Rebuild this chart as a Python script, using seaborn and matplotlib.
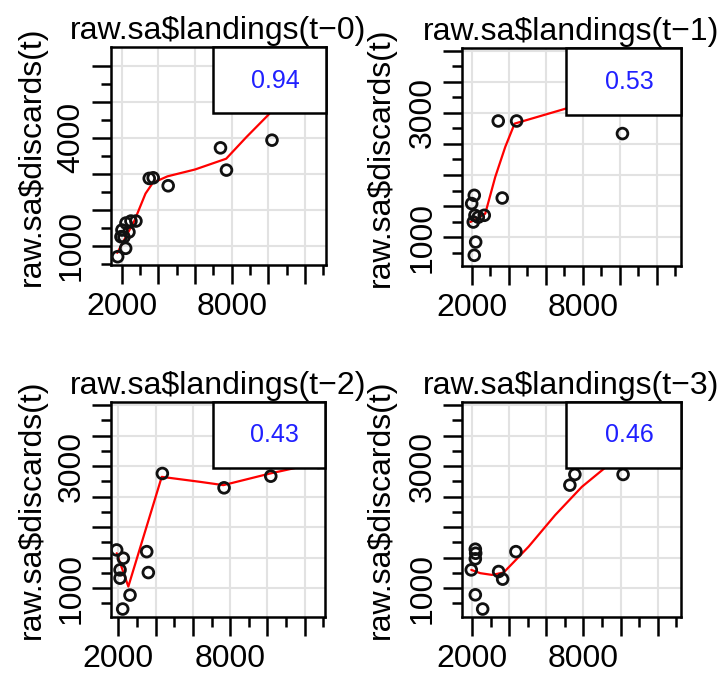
import matplotlib
matplotlib.use("Agg")
import matplotlib.pyplot as plt
from matplotlib.patches import Rectangle
from matplotlib.ticker import FixedLocator, FixedFormatter
import seaborn as sns
import pandas as pd

# values
lag0_x = [1782, 2218, 1962, 2125, 2397, 2234, 2506, 2778, 2016, 3503, 3720, 4537, 7389, 7716, 10198]
lag0_y = [694, 928, 1250, 1242, 1381, 1631, 1686, 1686, 1436, 2872, 2889, 2667, 3722, 3103, 3936]
lag0_fit_x = [1760, 2700, 3300, 3700, 4500, 6000, 7700, 8800, 10000, 10500]
lag0_fit_y = [800, 1700, 2450, 2750, 2930, 3120, 3420, 4020, 4640, 4950]

lag1_x = [2124, 1984, 2160, 2341, 2665, 2070, 2200, 2124, 3638, 3422, 4416, 10146]
lag1_y = [1672, 1539, 1350, 1320, 1350, 1242, 919, 705, 1629, 2871, 2871, 2668]
lag1_fit_x = [1908, 2270, 2719, 3259, 3800, 4308, 7081, 7600]
lag1_fit_y = [1242, 1297, 1377, 1968, 2452, 2829, 3071, 3110]

lag2_x = [1911, 2268, 2091, 2091, 2627, 2234, 3610, 3524, 4362, 7674, 10180, 12744]
lag2_y = [1626, 1490, 1299, 1163, 885, 657, 1255, 1598, 2880, 2645, 2836, 3060]
lag2_fit_x = [1914, 2537, 4329, 6385, 7636, 10143, 11753, 12744]
lag2_fit_y = [1572, 1026, 2825, 2743, 2689, 2880, 2988, 3019]

lag3_x = [2180, 2199, 2180, 1962, 2180, 2575, 3435, 3651, 4366, 7538, 7269, 10134]
lag3_y = [1638, 1572, 1480, 1299, 890, 657, 1272, 1147, 1598, 2864, 2689, 2864]
lag3_fit_x = [1962, 2446, 3075, 3704, 5048, 6478, 7914, 9220, 9800]
lag3_fit_y = [1299, 1245, 1217, 1255, 1680, 2198, 2661, 2988, 3150]

lags = ["0", "1", "2", "3"]
r_values = ["0.94", "0.53", "0.43", "0.46"]

x_major = [2000, 4000, 6000, 8000, 10000, 12000]
x_minor = [3000, 5000, 7000, 9000, 11000, 13000]
x_labels = ["2000", "", "", "8000", "", ""]

y_major_big = [1000, 2000, 3000, 4000, 5000, 6000]
y_minor_big = [500, 1500, 2500, 3500, 4500, 5500]
y_labels_big = ["1000", "", "", "4000", "", ""]
y_major_small = [1000, 1500, 2000, 2500, 3000, 3500, 4000]
y_minor_small = [750, 1250, 1750, 2250, 2750, 3250, 3750]
y_labels_small = ["1000", "", "", "", "3000", "", ""]

panels = [
    dict(x=lag0_x, y=lag0_y, fx=lag0_fit_x, fy=lag0_fit_y,
         rect=[0.1533, 0.6097, 0.2970, 0.3211], xlim=(1418, 13145), ylim=(463, 6528),
         ymaj=y_major_big, ymin=y_minor_big, ylab=y_labels_big),
    dict(x=lag1_x, y=lag1_y, fx=lag1_fit_x, fy=lag1_fit_y,
         rect=[0.6381, 0.6082, 0.3025, 0.3211], xlim=(1459, 13315), ylim=(532, 4048),
         ymaj=y_major_small, ymin=y_minor_small, ylab=y_labels_small),
    dict(x=lag2_x, y=lag2_y, fx=lag2_fit_x, fy=lag2_fit_y,
         rect=[0.1533, 0.0913, 0.2956, 0.3166], xlim=(1606, 13091), ylim=(526, 4052),
         ymaj=y_major_small, ymin=y_minor_small, ylab=y_labels_small),
    dict(x=lag3_x, y=lag3_y, fx=lag3_fit_x, fy=lag3_fit_y,
         rect=[0.6381, 0.0913, 0.3025, 0.3166], xlim=(1462, 13251), ylim=(526, 4052),
         ymaj=y_major_small, ymin=y_minor_small, ylab=y_labels_small),
]

sns.set_style("white")
plt.rcParams["font.family"] = ["Liberation Sans", "DejaVu Sans"]

fig = plt.figure(figsize=(7.24, 6.79), dpi=100)

for i, p in enumerate(panels):
    ax = fig.add_axes(p["rect"])
    pts = pd.DataFrame({"landings": p["x"], "discards": p["y"]})
    fit = pd.DataFrame({"landings": p["fx"], "discards": p["fy"]})

    sns.lineplot(data=fit, x="landings", y="discards", ax=ax, color="red",
                 lw=1.6, sort=False, estimator=None, zorder=2)
    sns.scatterplot(data=pts, x="landings", y="discards", ax=ax, marker="o", s=60,
                    fc="none", edgecolor="#111111", linewidth=2.0, zorder=3)

    ax.set_xlim(p["xlim"])
    ax.set_ylim(p["ylim"])

    ax.xaxis.set_major_locator(FixedLocator(x_major))
    ax.xaxis.set_major_formatter(FixedFormatter(x_labels))
    ax.xaxis.set_minor_locator(FixedLocator(x_minor))
    ax.yaxis.set_major_locator(FixedLocator(p["ymaj"]))
    ax.yaxis.set_major_formatter(FixedFormatter(p["ylab"]))
    ax.yaxis.set_minor_locator(FixedLocator(p["ymin"]))

    ax.grid(True, which="major", color="#e2e2e2", lw=1.5)
    ax.set_axisbelow(True)
    for s in ax.spines.values():
        s.set_linewidth(1.8)
        s.set_color("black")

    ax.tick_params(which="both", bottom=True, left=True, top=False, right=False)
    ax.tick_params(which="major", direction="out", length=13.5, width=1.8,
                   color="black", labelsize=23, labelcolor="black")
    ax.tick_params(which="minor", direction="out", length=7.5, width=1.8, color="black")
    ax.tick_params(axis="x", which="major", pad=6)
    ax.tick_params(axis="y", which="major", pad=4, labelrotation=90)
    for lbl in ax.get_yticklabels():
        lbl.set_va("center")

    ax.set_xlabel("")
    ax.set_ylabel("raw.sa\\$discards(t)", fontsize=23, color="black")
    ax.yaxis.set_label_coords(-0.30, 0.5)
    ax.set_title("raw.sa\\$landings(t\u2212" + lags[i] + ")", fontsize=23,
                 color="black", pad=6)

    ax.add_patch(Rectangle((0.475, 0.695), 0.525, 0.305, transform=ax.transAxes,
                           fc="white", ec="black", lw=1.8, zorder=5, clip_on=False))
    ax.text(0.765, 0.845, r_values[i], transform=ax.transAxes, color="#2020ff",
            fontsize=18, ha="center", va="center", zorder=6)

fig.savefig("out.png", dpi=100)
